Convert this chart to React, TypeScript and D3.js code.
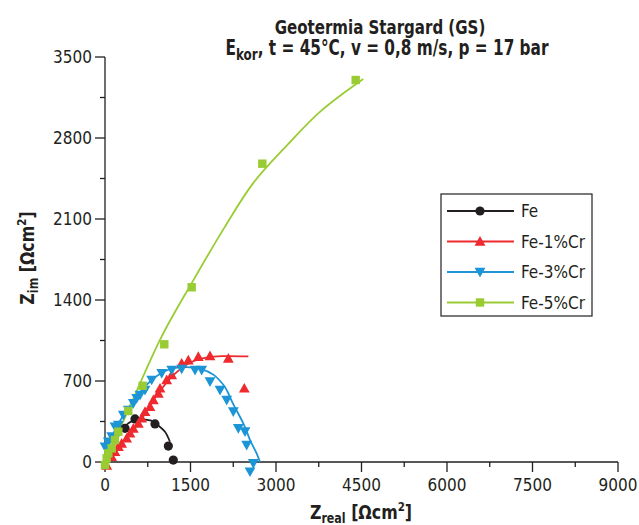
import React from "react";
import * as d3 from "d3";

// Nyquist data [Zreal, Zim]
const fePoints = [[351, 291], [526, 372], [877, 329], [1111, 138], [1198, 17]];
const feLine = [[60, 50], [200, 190], [330, 300], [500, 360], [650, 368], [848, 350], [960, 305], [1053, 262], [1140, 175]];

const cr1Points = [
  [30, -30], [117, 46], [175, 89], [234, 132], [292, 161], [380, 205], [439, 248], [497, 291],
  [585, 334], [643, 378], [702, 435], [789, 478], [848, 536], [936, 593], [965, 637], [1082, 709],
  [1170, 752], [1345, 853], [1462, 881], [1637, 910], [1842, 916], [2164, 896], [2444, 637],
];
const cr1Line = [[0, 0], [300, 165], [600, 340], [900, 570], [1200, 750], [1500, 860], [1800, 905], [2100, 915], [2515, 912]];

const cr3Points = [
  [0, 132], [58, 175], [117, 219], [175, 305], [234, 320], [322, 406], [409, 449], [497, 507],
  [556, 550], [614, 579], [702, 622], [819, 709], [995, 766], [1170, 795], [1345, 804], [1579, 795],
  [1696, 795], [1842, 694], [2018, 622], [2135, 536], [2251, 435], [2339, 291], [2456, 262],
  [2485, 147], [2602, -11], [2544, -84],
];
const cr3Line = [[0, 60], [200, 300], [500, 530], [800, 700], [1100, 795], [1400, 820], [1700, 800], [1900, 755], [2100, 650], [2250, 500], [2430, 330], [2545, 190], [2660, 75], [2720, 0]];

const cr5Points = [
  [0, -26], [29, 32], [58, 75], [117, 118], [175, 190], [234, 262], [409, 441], [660, 659],
  [1040, 1017], [1521, 1510], [2760, 2578], [4398, 3301],
];
const cr5Line = [[0, 0], [409, 449], [993, 1083], [1549, 1570], [2100, 2030], [2600, 2410], [3200, 2740], [3780, 3030], [4530, 3310]];

const xTicks = [0, 1500, 3000, 4500, 6000, 7500, 9000];
const yTicks = [0, 700, 1400, 2100, 2800, 3500];
const legendLabels = ["Fe", "Fe-1%Cr", "Fe-3%Cr", "Fe-5%Cr"];

const FONT = "'DejaVu Sans Condensed', 'DejaVu Sans', sans-serif";
const TXT = "#231f20";

const x = d3.scaleLinear().domain([0, 9000]).range([105, 618]);
const y = d3.scaleLinear().domain([0, 3500]).range([462, 57]);

const lineGen = d3
  .line<number[]>()
  .x((d) => x(d[0]))
  .y((d) => y(d[1]))
  .curve(d3.curveCatmullRom.alpha(0.5));

const series = [
  { label: legendLabels[0], color: "#231f20", pts: fePoints, line: feLine, shape: "circle" },
  { label: legendLabels[1], color: "#ee2a2e", pts: cr1Points, line: cr1Line, shape: "up" },
  { label: legendLabels[2], color: "#1b95d6", pts: cr3Points, line: cr3Line, shape: "down" },
  { label: legendLabels[3], color: "#99cc33", pts: cr5Points, line: cr5Line, shape: "square" },
];

function Marker({ shape, cx, cy, color }: { shape: string; cx: number; cy: number; color: string }) {
  if (shape === "circle") return <circle cx={cx} cy={cy} r={4.6} fill={color} />;
  if (shape === "square") return <rect x={cx - 4.2} y={cy - 4.2} width={8.4} height={8.4} fill={color} />;
  const s = 5.4;
  const d =
    shape === "up"
      ? `M${cx},${cy - s} L${cx + s},${cy + s * 0.8} L${cx - s},${cy + s * 0.8} Z`
      : `M${cx},${cy + s} L${cx + s},${cy - s * 0.8} L${cx - s},${cy - s * 0.8} Z`;
  return <path d={d} fill={color} />;
}

// condensed bold text (the original uses a narrow face)
function Squeezed({ tx, ty, sx, rot = 0, size, children }: any) {
  return (
    <text
      transform={`translate(${tx},${ty}) rotate(${rot}) scale(${sx},1)`}
      textAnchor="middle"
      fontSize={size}
      fontWeight="bold"
      fill={TXT}
    >
      {children}
    </text>
  );
}

export default function App() {
  const xMinor = d3.range(750, 9000, 1500);
  const yMinor = d3.range(350, 3500, 700);
  return (
    <svg width={639} height={525} style={{ position: "absolute", left: 0, top: 0, background: "#fff" }} fontFamily={FONT}>
      {/* title */}
      <Squeezed tx={380} ty={34} sx={0.88} size={19}>
        Geotermia Stargard (GS)
      </Squeezed>
      <Squeezed tx={387} ty={55} sx={0.83} size={20.5}>
        E<tspan fontSize={16} dy={5}>kor</tspan>
        <tspan dy={-5}>, t = 45°C, v = 0,8 m/s, p = 17 bar</tspan>
      </Squeezed>

      {/* axes */}
      <g stroke={TXT} strokeWidth={1.3}>
        <line x1={105} x2={105} y1={57} y2={462} />
        <line x1={105} x2={618} y1={462} y2={462} />
        {yTicks.map((t) => (
          <line key={"ym" + t} x1={95} x2={105} y1={y(t)} y2={y(t)} />
        ))}
        {yMinor.map((t) => (
          <line key={"yn" + t} x1={100} x2={105} y1={y(t)} y2={y(t)} />
        ))}
        {xTicks.map((t) => (
          <line key={"xm" + t} x1={x(t)} x2={x(t)} y1={462} y2={472} />
        ))}
        {xMinor.map((t) => (
          <line key={"xn" + t} x1={x(t)} x2={x(t)} y1={462} y2={467} />
        ))}
      </g>
      {yTicks.map((t) => (
        <text key={"yl" + t} x={92} y={y(t) + 6} textAnchor="end" fontSize={17} fill={TXT}>
          {t}
        </text>
      ))}
      {xTicks.map((t) => (
        <text key={"xl" + t} x={x(t)} y={491} textAnchor="middle" fontSize={17} fill={TXT}>
          {t}
        </text>
      ))}
      <Squeezed tx={361} ty={519} sx={0.88} size={20}>
        Z<tspan fontSize={14} dy={4}>real</tspan>
        <tspan dy={-4}> [Ωcm</tspan>
        <tspan fontSize={13} dy={-8}>2</tspan>
        <tspan dy={8}>]</tspan>
      </Squeezed>
      <Squeezed tx={34} ty={258} rot={-90} sx={0.88} size={20}>
        Z<tspan fontSize={14} dy={4}>im</tspan>
        <tspan dy={-4}> [Ωcm</tspan>
        <tspan fontSize={13} dy={-8}>2</tspan>
        <tspan dy={8}>]</tspan>
      </Squeezed>

      {/* fitted lines */}
      {series.map((s) => (
        <path key={"l" + s.label} d={lineGen(s.line) || ""} fill="none" stroke={s.color} strokeWidth={1.8} />
      ))}
      {/* measured points */}
      {series.map((s) => (
        <g key={"p" + s.label}>
          {s.pts.map((p, i) => (
            <Marker key={i} shape={s.shape} cx={x(p[0])} cy={y(p[1])} color={s.color} />
          ))}
        </g>
      ))}

      {/* legend */}
      <rect x={441} y={194} width={151} height={122} fill="#fff" stroke={TXT} strokeWidth={1.2} />
      {series.map((s, i) => {
        const ly = 211 + i * 30.5;
        return (
          <g key={"lg" + s.label}>
            <line x1={447} x2={514} y1={ly} y2={ly} stroke={s.color} strokeWidth={1.8} />
            <Marker shape={s.shape} cx={480} cy={ly} color={s.color} />
            <text x={521} y={ly + 6} fontSize={17} fill={TXT}>
              {s.label}
            </text>
          </g>
        );
      })}
    </svg>
  );
}
